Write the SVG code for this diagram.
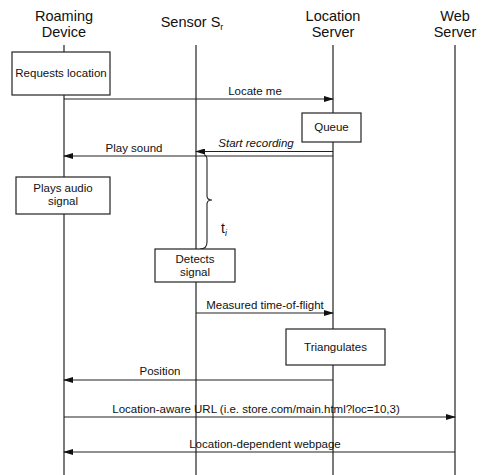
<svg xmlns="http://www.w3.org/2000/svg" width="483" height="475" viewBox="0 0 483 475">
<defs>
<marker id="ah" markerWidth="10" markerHeight="6" refX="9" refY="3" orient="auto" markerUnits="userSpaceOnUse">
<path d="M0,0 L10,3 L0,6 Z" fill="#111"/>
</marker>
<style>
.hdr{font-family:"Liberation Sans",Arial,sans-serif;font-size:14.5px;fill:#111;text-anchor:middle}
.lbl{font-family:"Liberation Sans",Arial,sans-serif;font-size:11.5px;fill:#111;text-anchor:middle}
.life{stroke:#222;stroke-width:1.2;fill:none}
.box{fill:#fff;stroke:#222;stroke-width:1.2}
.msg{stroke:#222;stroke-width:1.1;fill:none;marker-end:url(#ah)}
</style>
</defs>
<rect width="483" height="475" fill="#fff"/>
<g id="lifelines">
<line class="life" x1="64" y1="45" x2="64" y2="475"/>
<line class="life" x1="196" y1="45" x2="196" y2="475"/>
<line class="life" x1="333" y1="45" x2="333" y2="475"/>
<line class="life" x1="455" y1="45" x2="455" y2="475"/>
</g>
<g id="hdr-roaming"><text class="hdr" x="64" y="21">Roaming</text><text class="hdr" x="64" y="37">Device</text></g>
<g id="hdr-sensor"><text class="hdr" x="192" y="27">Sensor S<tspan font-size="9" dy="3">r</tspan></text></g>
<g id="hdr-location"><text class="hdr" x="333" y="21">Location</text><text class="hdr" x="333" y="37">Server</text></g>
<g id="hdr-web"><text class="hdr" x="455" y="21">Web</text><text class="hdr" x="455" y="37">Server</text></g>
<g id="connectors">
<line class="msg" x1="64" y1="99" x2="333" y2="99"/>
<line class="msg" x1="333" y1="151.5" x2="196" y2="151.5"/>
<line class="msg" x1="333" y1="156" x2="64" y2="156"/>
<line class="msg" x1="196" y1="313" x2="333" y2="313"/>
<line class="msg" x1="333" y1="380" x2="64" y2="380"/>
<line class="msg" x1="64" y1="417" x2="455" y2="417"/>
<line class="msg" x1="455" y1="452" x2="64" y2="452"/>
<path d="M204,155 Q207,155 207,160 L207,196 Q207,200 212,200 Q207,200 207,204 L207,242 Q207,249 200,249" fill="none" stroke="#222" stroke-width="1.1"/>
<text class="lbl" x="255" y="95">Locate me</text>
<text class="lbl" x="256" y="147" font-style="italic">Start recording</text>
<text class="lbl" x="134" y="152">Play sound</text>
<text class="lbl" x="265" y="309">Measured time-of-flight</text>
<text class="lbl" x="160" y="375">Position</text>
<text class="lbl" x="256" y="413">Location-aware URL (i.e. store.com/main.html?loc=10,3)</text>
<text class="lbl" x="265" y="448">Location-dependent webpage</text>
<text x="221" y="233" font-family="Liberation Sans,Arial,sans-serif" font-size="14" fill="#111">t<tspan font-size="9" dy="3" font-style="italic">i</tspan></text>
</g>
<g id="requests-location"><rect class="box" x="12" y="52" width="98" height="43"/><text class="lbl" x="61" y="77">Requests location</text></g>
<g id="queue"><rect class="box" x="302" y="113" width="59" height="29"/><text class="lbl" x="331.5" y="131">Queue</text></g>
<g id="plays-audio"><rect class="box" x="16" y="177" width="94" height="37"/><text class="lbl" x="63" y="192">Plays audio</text><text class="lbl" x="63" y="205">signal</text></g>
<g id="detects-signal"><rect class="box" x="155" y="249" width="80" height="33"/><text class="lbl" x="195" y="263">Detects</text><text class="lbl" x="195" y="276">signal</text></g>
<g id="triangulates"><rect class="box" x="286" y="329" width="99" height="36"/><text class="lbl" x="335.5" y="351">Triangulates</text></g>
</svg>
